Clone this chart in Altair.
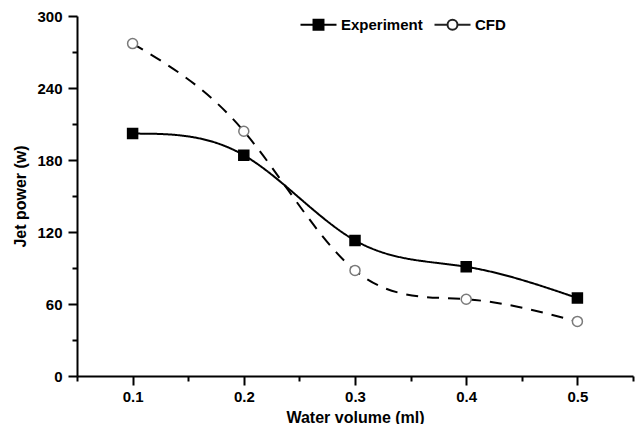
import altair as alt
import pandas as pd

# ---- data ----
x_vals = [0.1, 0.2, 0.3, 0.4, 0.5]
experiment = [202, 184, 113, 91, 65]
cfd = [277, 204, 88, 64, 45.5]
series_names = ["Experiment", "CFD"]

x_ticks = [0.1, 0.2, 0.3, 0.4, 0.5]
x_minor = [0.05, 0.15, 0.25, 0.35, 0.45, 0.55]
y_ticks = [0, 60, 120, 180, 240, 300]
y_minor = [30, 90, 150, 210, 270]

df = pd.DataFrame({
    "x": x_vals * 2,
    "y": experiment + cfd,
    "series": [series_names[0]] * len(x_vals) + [series_names[1]] * len(x_vals),
})
df["entry"] = df["series"]

FONT = "Liberation Sans"

xscale = alt.Scale(domain=[0.05, 0.55], nice=False, zero=False)
yscale = alt.Scale(domain=[0, 300], nice=False)

common_axis = dict(
    grid=False, domainColor="black", domainWidth=2, tickColor="black", tickWidth=2,
    labelFont=FONT, labelFontSize=15, labelFontWeight="bold", labelColor="black",
    titleFont=FONT, titleFontSize=16, titleFontWeight="bold", titleColor="black",
)

x_main = alt.X("x:Q", scale=xscale, title="Water volume (ml)",
               axis=alt.Axis(values=x_ticks, format=".1f", tickSize=9, labelPadding=4,
                             titlePadding=5, labelFlush=False, **common_axis))
y_main = alt.Y("y:Q", scale=yscale, title="Jet power (w)",
               axis=alt.Axis(values=y_ticks, tickSize=9, labelPadding=6,
                             titlePadding=8, **common_axis))

lines = alt.Chart(df).mark_line(color="black", strokeWidth=2, interpolate="natural").encode(
    x=x_main,
    y=y_main,
    strokeDash=alt.StrokeDash("series:N", scale=alt.Scale(domain=series_names, range=[[1, 0], [12, 9]]),
                              legend=None),
)

points = alt.Chart(df).mark_point(filled=True, size=100, strokeWidth=1.5, opacity=1, fillOpacity=1).encode(
    x=alt.X("x:Q", scale=xscale, axis=None),
    y=alt.Y("y:Q", scale=yscale, axis=None),
    shape=alt.Shape("series:N", scale=alt.Scale(domain=series_names, range=["square", "circle"]), legend=None),
    fill=alt.Fill("series:N", scale=alt.Scale(domain=series_names, range=["black", "white"]), legend=None),
    stroke=alt.Stroke("series:N", scale=alt.Scale(domain=series_names, range=["black", "#7a7a7a"]), legend=None),
)

# legend symbols: line – marker – line
sq_path = "M-3,0H-0.83M0.83,0H3M-0.83,-0.83H0.83V0.83H-0.83Z"
ci_path = "M-3,0H-0.83M0.83,0H3M0.83,0A0.83,0.83,0,1,1,-0.83,0A0.83,0.83,0,1,1,0.83,0Z"

legend = alt.Legend(
    title=None, orient="none", legendX=234, legendY=1, direction="horizontal",
    symbolSize=144, symbolStrokeWidth=2, symbolOpacity=1,
    labelFont=FONT, labelFontSize=15, labelFontWeight="bold", labelColor="black",
    labelOffset=15, columnPadding=7,
)

legend_layer = alt.Chart(df).mark_point(filled=True, opacity=0, strokeWidth=2).encode(
    x=alt.X("x:Q", scale=xscale, axis=None),
    y=alt.Y("y:Q", scale=yscale, axis=None),
    shape=alt.Shape("entry:N", scale=alt.Scale(domain=series_names, range=[sq_path, ci_path]), legend=legend),
    fill=alt.Fill("entry:N", scale=alt.Scale(domain=series_names, range=["black", "white"]), legend=legend),
    stroke=alt.Stroke("entry:N", scale=alt.Scale(domain=series_names, range=["black", "#222222"]), legend=legend),
)

minor = alt.Chart(df).mark_point(opacity=0).encode(
    x=alt.X("x:Q", scale=xscale, title=None,
            axis=alt.Axis(values=x_minor, labels=False, tickSize=5, domain=False, orient="bottom",
                          grid=False, tickColor="black", tickWidth=2)),
    y=alt.Y("y:Q", scale=yscale, title=None,
            axis=alt.Axis(values=y_minor, labels=False, tickSize=5, domain=False, orient="left",
                          grid=False, tickColor="black", tickWidth=2)),
)

chart = alt.layer(lines, points, legend_layer, minor).resolve_axis(
    x="independent", y="independent"
).resolve_scale(shape="independent", fill="independent", stroke="independent").properties(
    width=556, height=360,
    background="white",
    autosize=alt.AutoSizeParams(type="none"),
    padding={"left": 69, "top": 8, "right": 2, "bottom": 48},
).configure_view(stroke=None)

chart.save("out.html", embed_options={"renderer": "svg", "actions": False})
